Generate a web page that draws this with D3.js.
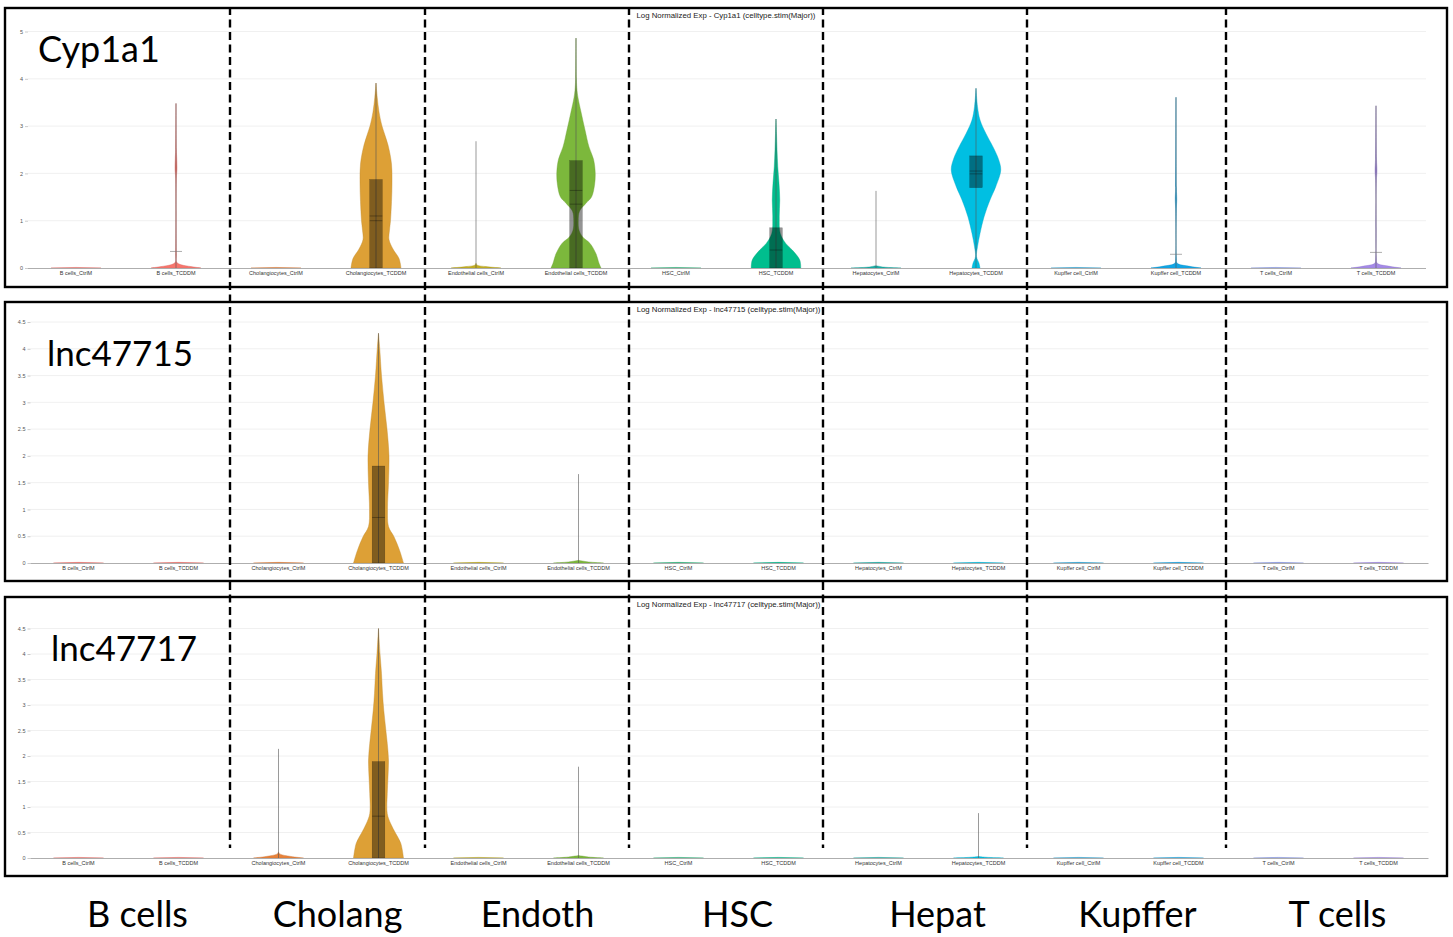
<!DOCTYPE html>
<html>
<head>
<meta charset="utf-8">
<script src="https://cdn.jsdelivr.net/npm/d3@7"></script>
<style>
  body { margin: 0; background: #fff; }
  svg { display: block; }
</style>
</head>
<body>
<svg id="chart"></svg>
<script>
const categories = [
  "B cells_CtrlM", "B cells_TCDDM",
  "Cholangiocytes_CtrlM", "Cholangiocytes_TCDDM",
  "Endothelial cells_CtrlM", "Endothelial cells_TCDDM",
  "HSC_CtrlM", "HSC_TCDDM",
  "Hepatocytes_CtrlM", "Hepatocytes_TCDDM",
  "Kupffer cell_CtrlM", "Kupffer cell_TCDDM",
  "T cells_CtrlM", "T cells_TCDDM"
]
const groups = ["B cells", "Cholang", "Endoth", "HSC", "Hepat", "Kupffer", "T cells"]
const genes = ["Cyp1a1", "lnc47715", "lnc47717"]
const cypTicks = [0, 1, 2, 3, 4, 5]
const lncTicks = [0, 0.5, 1, 1.5, 2, 2.5, 3, 3.5, 4, 4.5]

// [expression, relative density] pairs, 1 = full violin width
const FLAT = [[0, 1], [0.012, 0]]

const cyp1a1Density = [
  FLAT,
  [[0, 1], [0.03, 0.6], [0.07, 0.2], [0.12, 0.03], [0.3, 0.015], [1.9, 0.015], [2.1, 0.04], [2.3, 0.03], [2.5, 0.015], [3.48, 0]],
  FLAT,
  [[0, 1], [0.2, 0.92], [0.4, 0.68], [0.6, 0.52], [0.8, 0.54], [1.0, 0.58], [1.4, 0.62], [1.8, 0.64], [2.2, 0.62], [2.6, 0.48], [3.0, 0.24], [3.3, 0.12], [3.6, 0.05], [3.91, 0]],
  [[0, 1], [0.03, 0.4], [0.06, 0.05], [0.1, 0]],
  [[0, 1], [0.1, 0.92], [0.3, 0.8], [0.52, 0.56], [0.66, 0.26], [0.8, 0.12], [1.0, 0.09], [1.2, 0.14], [1.37, 0.4], [1.5, 0.62], [1.75, 0.74], [2.0, 0.77], [2.3, 0.7], [2.56, 0.52], [2.92, 0.36], [3.3, 0.2], [3.6, 0.08], [3.76, 0.04], [4.0, 0.015], [4.86, 0]],
  FLAT,
  [[0, 0.99], [0.17, 0.95], [0.38, 0.65], [0.52, 0.39], [0.73, 0.17], [1.08, 0.13], [1.44, 0.15], [1.79, 0.12], [2.14, 0.07], [2.5, 0.04], [2.84, 0.02], [3.15, 0]],
  [[0, 1], [0.02, 0.3], [0.05, 0]],
  [[0, 0.16], [0.1, 0.12], [0.24, 0.02], [0.45, 0.06], [0.73, 0.16], [1.08, 0.32], [1.44, 0.56], [1.72, 0.79], [2.07, 0.99], [2.3, 0.9], [2.56, 0.68], [2.85, 0.39], [3.13, 0.16], [3.41, 0.06], [3.8, 0]],
  FLAT,
  [[0, 1], [0.04, 0.5], [0.1, 0.05], [0.2, 0.015], [1.25, 0.015], [1.45, 0.03], [1.7, 0.015], [3.61, 0]],
  FLAT,
  [[0, 1], [0.04, 0.5], [0.1, 0.05], [0.2, 0.015], [1.85, 0.015], [2.05, 0.04], [2.3, 0.02], [3.43, 0]]
]
const cyp1a1Max = [0, 3.48, 0, 3.91, 2.68, 4.86, 0, 3.15, 1.63, 3.8, 0, 3.61, 0, 3.43]
// q1, mean, median, q3
const cyp1a1Box = [null, null, null, [0, 1.0, 1.1, 1.87], null, [0, 1.35, 1.64, 2.27], null, [0, null, 0.38, 0.85], null, [1.7, 1.99, 2.05, 2.37], null, null, null, null]
const cyp1a1Cap = [null, 0.35, null, null, null, null, null, null, null, null, null, 0.29, null, 0.33]

const lnc47715Density = [
  FLAT, FLAT, FLAT,
  [[0, 1], [0.24, 0.84], [0.49, 0.62], [0.68, 0.4], [1.0, 0.36], [1.5, 0.4], [2.0, 0.42], [2.5, 0.34], [3.0, 0.22], [3.5, 0.12], [4.0, 0.05], [4.29, 0]],
  FLAT,
  [[0, 1], [0.02, 0.4], [0.05, 0]],
  FLAT, FLAT, FLAT, FLAT, FLAT, FLAT, FLAT, FLAT
]
const lnc47715Max = [0, 0, 0, 4.29, 0, 1.66, 0, 0, 0, 0, 0, 0, 0, 0]
const lnc47715Box = [null, null, null, [0, null, 0.85, 1.81], null, null, null, null, null, null, null, null, null, null]

const lnc47717Density = [
  FLAT, FLAT,
  [[0, 1], [0.03, 0.5], [0.08, 0.05], [0.12, 0]],
  [[0, 1], [0.29, 0.89], [0.48, 0.69], [0.67, 0.49], [0.87, 0.35], [1.26, 0.35], [1.59, 0.38], [1.92, 0.4], [2.25, 0.35], [2.57, 0.28], [2.9, 0.21], [3.23, 0.16], [3.62, 0.12], [4.01, 0.06], [4.5, 0]],
  FLAT,
  [[0, 1], [0.02, 0.4], [0.05, 0]],
  FLAT, FLAT, FLAT,
  [[0, 1], [0.015, 0.3], [0.03, 0]],
  FLAT, FLAT, FLAT, FLAT
]
const lnc47717Max = [0, 0, 2.14, 4.5, 0, 1.79, 0, 0, 0, 0.88, 0, 0, 0, 0]
const lnc47717Box = [null, null, null, [0, null, 0.82, 1.89], null, null, null, null, null, null, null, null, null, null]

const colors = [
  "#F8766D", "#F8766D", "#E8823A", "#DDA036", "#C4AE22", "#7CB83C", "#2DBA7E",
  "#00BE8E", "#1AB0A8", "#00BFE2", "#28A8DC", "#12A6E6", "#8C9EF0", "#A58AE8"
]

const W = 1453
const H = 937

const panels = [
  { gene: genes[0], density: cyp1a1Density, max: cyp1a1Max, box: cyp1a1Box, cap: cyp1a1Cap, ticks: cypTicks,
    top: 8, base: 268, tickTopY: 31.5, x0: 26, labelX: 38, labelY: 62, labelSize: 36 },
  { gene: genes[1], density: lnc47715Density, max: lnc47715Max, box: lnc47715Box, cap: [], ticks: lncTicks,
    top: 302, base: 563, tickTopY: 322, x0: 28.5, labelX: 47, labelY: 366, labelSize: 35 },
  { gene: genes[2], density: lnc47717Density, max: lnc47717Max, box: lnc47717Box, cap: [], ticks: lncTicks,
    top: 597, base: 858, tickTopY: 628.5, x0: 28.5, labelX: 51, labelY: 661, labelSize: 35 }
]

// the dashed dividers were placed by hand, a few px off the band edges
const dividerNudge = [4, -1, 3, -3, 1, 0]

const svg = d3.select("#chart").attr("width", W).attr("height", H)
svg.append("rect").attr("width", W).attr("height", H).attr("fill", "#fff")

const halfWidth = d3.scaleLinear().domain([0, 1]).range([0, 25])

function drawPanel(p) {
  const x = d3.scaleBand().domain(categories).range([p.x0, p.x0 + 1400]).padding(0)
  const tMax = d3.max(p.ticks)
  const y = d3.scaleLinear().domain([0, tMax]).range([p.base, p.tickTopY])
  const g = svg.append("g")
  const left = p.x0 + 2
  const right = p.x0 + 1400

  // grid
  g.append("g").selectAll("line")
    .data(p.ticks.filter(t => t > 0))
    .enter().append("line")
    .attr("x1", left).attr("x2", right)
    .attr("y1", d => y(d)).attr("y2", d => y(d))
    .attr("stroke", "#ececec").attr("stroke-width", 0.8)

  // y axis labels
  const yAxis = d3.axisLeft(y).tickValues(p.ticks).tickSize(3).tickPadding(2)
    .tickFormat(d3.format("~g"))
  const ya = g.append("g").attr("transform", `translate(${left},0)`).call(yAxis)
  ya.select(".domain").remove()
  ya.selectAll("line").attr("stroke", "#aaa").attr("stroke-width", 0.6)
  ya.selectAll("text").attr("font-size", 5.5).attr("fill", "#555")
    .attr("font-family", "Liberation Sans, Arial, sans-serif")

  // title
  g.append("text")
    .attr("x", (p.x0 + right) / 2).attr("y", p.top + 9.5)
    .attr("text-anchor", "middle")
    .attr("font-family", "Liberation Sans, Arial, sans-serif")
    .attr("font-size", 7.8).attr("fill", "#222")
    .text(`Log Normalized Exp - ${p.gene} (celltype.stim(Major))`)

  const area = d3.area()
    .y(d => y(d[0]))
    .curve(d3.curveCatmullRom.alpha(0.5))

  categories.forEach((c, i) => {
    const cx = x(c) + x.bandwidth() / 2
    const vg = g.append("g")
    area.x0(d => cx - halfWidth(d[1])).x1(d => cx + halfWidth(d[1]))
    vg.append("path")
      .datum(p.density[i])
      .attr("d", area)
      .attr("fill", colors[i])
      .attr("stroke", d3.color(colors[i]).darker(0.4))
      .attr("stroke-width", 0.4)

    if (p.max[i] > 0) {
      vg.append("line")
        .attr("x1", cx).attr("x2", cx)
        .attr("y1", y(0)).attr("y2", y(p.max[i]))
        .attr("stroke", "#555").attr("stroke-opacity", 0.75).attr("stroke-width", 0.8)
    }
    if (p.cap[i] != null) {
      vg.append("line")
        .attr("x1", cx - 6).attr("x2", cx + 6)
        .attr("y1", y(p.cap[i])).attr("y2", y(p.cap[i]))
        .attr("stroke", "#777").attr("stroke-width", 0.6)
    }
    const b = p.box[i]
    if (b) {
      vg.append("rect")
        .attr("x", cx - 6.3).attr("width", 12.6)
        .attr("y", y(b[3])).attr("height", y(b[0]) - y(b[3]))
        .attr("fill", "#000").attr("fill-opacity", 0.42)
        .attr("stroke", "#000").attr("stroke-opacity", 0.35).attr("stroke-width", 0.5)
      b.slice(1, 3).filter(v => v != null).forEach(v => {
        vg.append("line")
          .attr("x1", cx - 6.3).attr("x2", cx + 6.3)
          .attr("y1", y(v)).attr("y2", y(v))
          .attr("stroke", "#000").attr("stroke-opacity", 0.45).attr("stroke-width", 0.7)
      })
    }
  })

  // x axis
  const xAxis = d3.axisBottom(x).tickSize(0).tickPadding(3)
  const xa = g.append("g").attr("transform", `translate(0,${p.base})`).call(xAxis)
  xa.select(".domain").attr("d", `M${left},0.5H${right}`).attr("stroke", "#a5a5a5").attr("stroke-width", 0.9)
  xa.selectAll("text").attr("font-size", 5.5).attr("fill", "#333")
    .attr("font-family", "Liberation Sans, Arial, sans-serif")

  // gene label
  g.append("text")
    .attr("x", p.labelX).attr("y", p.labelY)
    .attr("font-family", "Lato, sans-serif")
    .attr("font-size", p.labelSize).attr("fill", "#000")
    .text(p.gene)

  // panel frame
  g.append("rect")
    .attr("x", 5).attr("y", p.top)
    .attr("width", 1442).attr("height", 279)
    .attr("fill", "none").attr("stroke", "#000").attr("stroke-width", 2.4)

  return x
}

const xs = panels.map(drawPanel)

// group separators and group names
const xRef = xs[0]
const bounds = d3.range(1, groups.length).map(k => xRef(categories[2 * k]) + dividerNudge[k - 1])
svg.append("g").selectAll("line")
  .data(bounds)
  .enter().append("line")
  .attr("x1", d => d).attr("x2", d => d)
  .attr("y1", 7).attr("y2", 848)
  .attr("stroke", "#000").attr("stroke-width", 2.4)
  .attr("stroke-dasharray", "8,4.5")

const xLast = xs[2]
svg.append("g").selectAll("text")
  .data(groups)
  .enter().append("text")
  .attr("x", (d, k) => xLast(categories[2 * k + 1]) + 9)
  .attr("y", 927)
  .attr("text-anchor", "middle")
  .attr("font-family", "Lato, sans-serif")
  .attr("font-size", 36).attr("fill", "#000")
  .text(d => d)
</script>
</body>
</html>
